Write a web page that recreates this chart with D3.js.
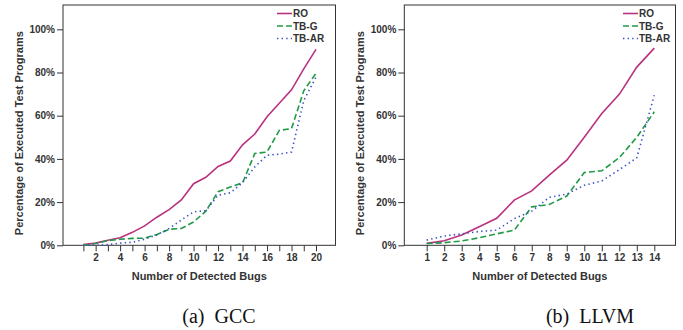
<!DOCTYPE html>
<html>
<head>
<meta charset="utf-8">
<script src="https://cdn.jsdelivr.net/npm/d3@7"></script>
<style>
  body { margin: 0; background: #fff; }
  svg { display: block; }
</style>
</head>
<body>
<svg id="chart" width="683" height="330"></svg>
<script>
// GCC panel
const gccBugs = d3.range(1, 21);
const gccRO   = [0.3, 1, 2.3, 3.5, 6, 9, 13, 16.5, 21, 28.5, 31.5, 36.5, 39, 46.5, 51.5, 59.5, 65.8, 72, 81.7, 90.7];
const gccTBG  = [0, 0.8, 2.2, 2.8, 3.2, 3.3, 5, 7.4, 7.8, 10.8, 15.8, 24.8, 27, 28.9, 42.5, 43.2, 53.2, 54, 71.5, 79.7];
const gccTBAR = [0, 0, 0.3, 1, 1.4, 2.8, 4.8, 7.8, 11.7, 15.5, 16, 23.2, 24.3, 29, 36.3, 41.7, 42.2, 43.2, 67, 77.9];
const gccXTicks = [2, 4, 6, 8, 10, 12, 14, 16, 18, 20];

// LLVM panel
const llvmBugs = d3.range(1, 15);
const llvmRO   = [0.9, 2.1, 4.8, 8.6, 12.5, 20.9, 25.2, 32.5, 39.4, 50, 61, 69.9, 82.5, 91.3];
const llvmTBG  = [0.8, 1.2, 2, 3.5, 5.3, 7, 17.8, 18.9, 22.8, 33.7, 34.5, 40.6, 50, 61.8];
const llvmTBAR = [2.4, 4.3, 5.3, 6.4, 7, 12.3, 15.8, 22.2, 23.7, 27.8, 29.8, 35, 40.5, 69.5];
const llvmXTicks = d3.range(1, 15);

const yTicks = [0, 20, 40, 60, 80, 100];
const seriesNames = ["RO", "TB-G", "TB-AR"];
const captions = ["(a)  GCC", "(b)  LLVM"];

const colors = { "RO": "#b8327f", "TB-G": "#1f9a45", "TB-AR": "#3b52c4" };
const dashes = { "RO": null, "TB-G": "6,3", "TB-AR": "1.4,3.2" };

const svg = d3.select("#chart");
const axisColor = "#333";
const tickFont = "'Liberation Sans', Arial, sans-serif";

const y = d3.scaleLinear().domain([0, 100]).range([245.3, 29.3]);
const frameTop = 5;

function drawPanel(opts) {
  const g = svg.append("g");
  const x = d3.scaleLinear().domain([1, opts.lastBug]).range(opts.tickRange);

  // frame
  g.append("rect")
    .attr("x", opts.frame[0]).attr("y", frameTop)
    .attr("width", opts.frame[1] - opts.frame[0])
    .attr("height", y(0) - frameTop)
    .attr("fill", "none")
    .attr("stroke", axisColor)
    .attr("stroke-width", 1);

  // y axis
  const yAxis = g.append("g")
    .attr("transform", `translate(${opts.frame[0]},0)`)
    .call(d3.axisLeft(y).tickValues(yTicks).tickFormat(d => d + "%").tickSize(6).tickPadding(2));
  yAxis.select(".domain").remove();

  // x axis
  const xAxis = g.append("g")
    .attr("transform", `translate(0,${y(0)})`)
    .call(d3.axisBottom(x).tickValues(d3.range(1, opts.lastBug + 1)).tickSize(6).tickPadding(3)
      .tickFormat(d => opts.xTicks.includes(d) ? d : ""));
  xAxis.select(".domain").remove();

  [yAxis, xAxis].forEach(a => {
    a.selectAll("line").attr("stroke", axisColor);
    a.selectAll("text")
      .attr("fill", axisColor)
      .style("font-family", tickFont)
      .style("font-weight", "bold")
      .style("font-size", "10px");
  });

  // lines
  const line = d3.line().x((d, i) => x(opts.bugs[i])).y(d => y(d));
  seriesNames.forEach((name, k) => {
    g.append("path")
      .datum(opts.series[k])
      .attr("d", line)
      .attr("fill", "none")
      .attr("stroke", colors[name])
      .attr("stroke-width", 1.6)
      .attr("stroke-dasharray", dashes[name]);
  });

  // legend
  const leg = g.append("g").attr("transform", `translate(${opts.legendX},0)`);
  seriesNames.forEach((name, k) => {
    const ly = 13.5 + k * 12.5;
    leg.append("line")
      .attr("x1", 0).attr("x2", 15).attr("y1", ly).attr("y2", ly)
      .attr("stroke", colors[name])
      .attr("stroke-width", 1.6)
      .attr("stroke-dasharray", dashes[name]);
    leg.append("text")
      .attr("x", 16).attr("y", ly + 3.8)
      .attr("fill", axisColor)
      .style("font-family", tickFont)
      .style("font-weight", "bold")
      .style("font-size", "10px")
      .text(name);
  });

  // axis titles
  g.append("text")
    .attr("transform", `translate(${opts.yTitleX},${(frameTop + y(0)) / 2 + 8}) rotate(-90)`)
    .attr("text-anchor", "middle")
    .attr("fill", axisColor)
    .style("font-family", tickFont)
    .style("font-weight", "bold")
    .style("font-size", "11px")
    .text("Percentage of Executed Test Programs");

  g.append("text")
    .attr("x", (opts.frame[0] + opts.frame[1]) / 2)
    .attr("y", 280)
    .attr("text-anchor", "middle")
    .attr("fill", axisColor)
    .style("font-family", tickFont)
    .style("font-weight", "bold")
    .style("font-size", "11px")
    .text("Number of Detected Bugs");

  // caption
  g.append("text")
    .attr("x", opts.captionX)
    .attr("y", 323)
    .attr("text-anchor", "middle")
    .attr("fill", "#111")
    .style("font-family", "'Liberation Serif', 'Times New Roman', serif")
    .style("font-size", "20px")
    .style("white-space", "pre")
    .attr("xml:space", "preserve")
    .text(opts.caption);
}

drawPanel({
  bugs: gccBugs, lastBug: 20, xTicks: gccXTicks,
  series: [gccRO, gccTBG, gccTBAR],
  tickRange: [83.4, 316], frame: [63, 335.5],
  legendX: 277, yTitleX: 23, captionX: 219, caption: captions[0]
});

drawPanel({
  bugs: llvmBugs, lastBug: 14, xTicks: llvmXTicks,
  series: [llvmRO, llvmTBG, llvmTBAR],
  tickRange: [426.7, 654.3], frame: [404.3, 675.5],
  legendX: 623, yTitleX: 364, captionX: 590, caption: captions[1]
});
</script>
</body>
</html>
